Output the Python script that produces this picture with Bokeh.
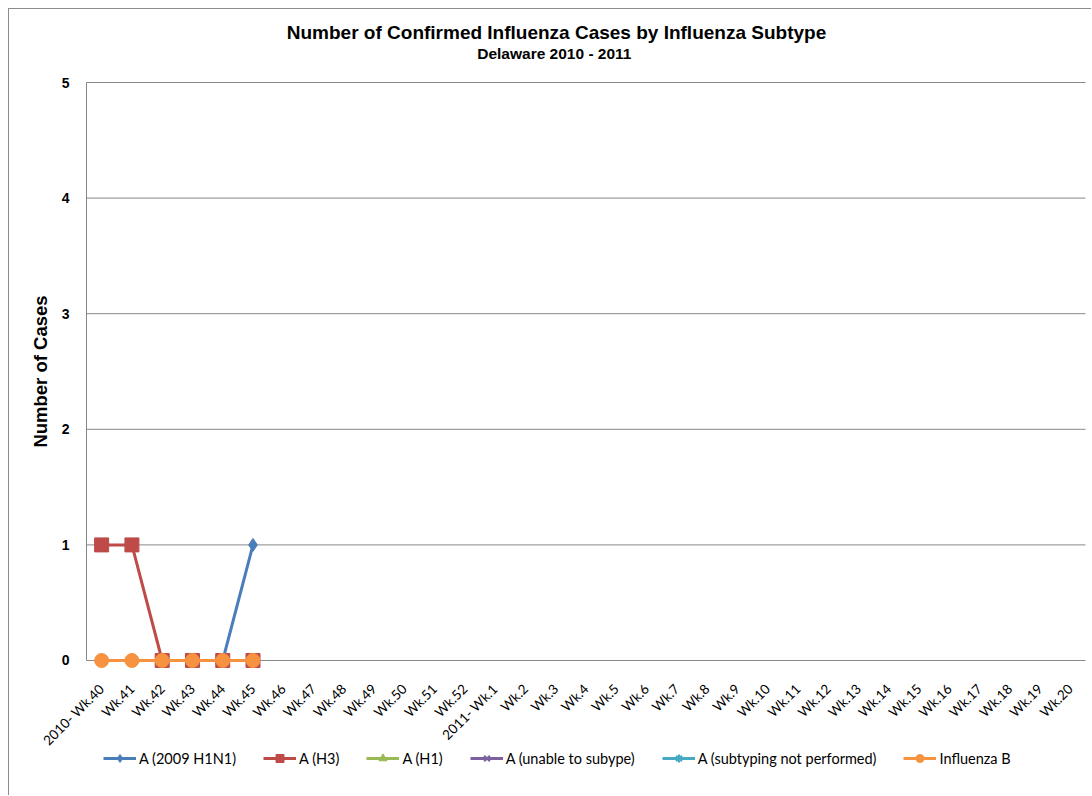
import math
from bokeh.plotting import figure
from bokeh.models import Range1d, FixedTicker, Legend, LegendItem, Label, ColumnDataSource
from bokeh.embed import file_html
from bokeh.resources import INLINE

# ---- data ----
weeks = ["2010- Wk.40", "Wk.41", "Wk.42", "Wk.43", "Wk.44", "Wk.45", "Wk.46", "Wk.47",
         "Wk.48", "Wk.49", "Wk.50", "Wk.51", "Wk.52", "2011- Wk.1", "Wk.2", "Wk.3",
         "Wk.4", "Wk.5", "Wk.6", "Wk.7", "Wk.8", "Wk.9", "Wk.10", "Wk.11", "Wk.12",
         "Wk.13", "Wk.14", "Wk.15", "Wk.16", "Wk.17", "Wk.18", "Wk.19", "Wk.20"]
reported_weeks = ["2010- Wk.40", "Wk.41", "Wk.42", "Wk.43", "Wk.44", "Wk.45"]
a_2009_h1n1 = [0, 0, 0, 0, 0, 1]
a_h3 = [1, 1, 0, 0, 0, 0]
a_h1 = [0, 0, 0, 0, 0, 0]
a_unable = [0, 0, 0, 0, 0, 0]
a_not_performed = [0, 0, 0, 0, 0, 0]
influenza_b = [0, 0, 0, 0, 0, 0]
series_names = ["A (2009 H1N1)", "A (H3)", "A (H1)", "A (unable to subype)",
                "A (subtyping not performed)", "Influenza B"]
y_ticks = [0, 1, 2, 3, 4, 5]

title_text = "Number of Confirmed Influenza Cases by Influenza Subtype"
subtitle_text = "Delaware 2010  - 2011"
y_title = "Number of Cases"

# week positions on the category axis (index of each week)
week_pos = list(range(len(weeks)))
reported_pos = [weeks.index(w) for w in reported_weeks]
cat_left, cat_right = -0.5, len(weeks) - 0.5

# ---- figure ----
# The frame covers the whole canvas; the weeks and 0..5 occupy the original plot box.
W, H = 1083, 787
p = figure(x_range=Range1d(-3.0435, 32.7312), y_range=Range1d(-1.1765, 5.6315),
           width=W, height=H, output_backend="svg", toolbar_location=None,
           min_border_left=0, min_border_right=0, min_border_top=0, min_border_bottom=0)
p.styles = {"margin-left": "8px", "margin-top": "8px",
            "border-left": "1px solid #8c8c8c", "border-top": "1px solid #8c8c8c"}
p.outline_line_color = None
p.background_fill_color = "white"
p.border_fill_color = "white"

grid_col = "#878787"
p.xgrid.visible = False
p.ygrid.visible = False
# horizontal gridlines limited to the category area
p.segment(x0=[cat_left] * len(y_ticks), x1=[cat_right] * len(y_ticks), y0=y_ticks, y1=y_ticks,
          line_color=grid_col, line_width=1)

p.yaxis.fixed_location = cat_left
p.yaxis.ticker = FixedTicker(ticks=y_ticks)
p.yaxis.bounds = (0, 5)
p.yaxis.axis_line_color = grid_col
p.yaxis.axis_line_width = 1
p.yaxis.major_tick_line_color = None
p.yaxis.minor_tick_line_color = None
p.yaxis.major_label_text_font = "Liberation Sans"
p.yaxis.major_label_text_font_style = "bold"
p.yaxis.major_label_text_font_size = "14px"
p.yaxis.major_label_text_color = "black"
p.yaxis.major_label_standoff = 11

p.xaxis.fixed_location = 0
p.xaxis.ticker = FixedTicker(ticks=week_pos)
p.xaxis.major_label_overrides = {i: w for i, w in zip(week_pos, weeks)}
p.xaxis.axis_line_color = None
p.xaxis.major_tick_line_color = None
p.xaxis.minor_tick_line_color = None
p.xaxis.major_label_orientation = math.pi / 4
p.xaxis.major_label_text_font = "Lato"
p.xaxis.major_label_text_font_size = "13.5px"
p.xaxis.major_label_text_color = "black"
p.xaxis.major_label_standoff = 20

colors = ["#4A7EBB", "#BE4B48", "#98B954", "#7D60A0", "#46AAC5", "#F69240"]
markers = ["diamond", "square", "triangle", "x", "asterisk", "circle"]
sizes = [13, 14, 11, 10, 10, 14]
values = [a_2009_h1n1, a_h3, a_h1, a_unable, a_not_performed, influenza_b]

items = []
for name, vals, c, m, s in zip(series_names, values, colors, markers, sizes):
    src = ColumnDataSource(dict(x=reported_pos, y=vals, week=reported_weeks))
    ln = p.line("x", "y", source=src, line_color=c, line_width=3)
    if m in ("x", "asterisk"):
        sc = p.scatter("x", "y", source=src, marker=m, size=s, line_color=c, line_width=2)
    else:
        sc = p.scatter("x", "y", source=src, marker=m, size=s, fill_color=c, line_color=c)
    items.append(LegendItem(label=name, renderers=[ln, sc]))

legend = Legend(items=items, orientation="horizontal", location=(94, 28),
                glyph_width=33, glyph_height=20, label_standoff=3, spacing=27,
                padding=0, margin=0, border_line_color=None, background_fill_alpha=0,
                label_text_font="Lato", label_text_font_size="14.5px", label_text_color="black")
p.add_layout(legend, "center")

p.add_layout(Label(x=547, y=764, x_units="screen", y_units="screen", text=title_text,
                   text_align="center", text_baseline="middle", text_font="Liberation Sans",
                   text_font_style="bold", text_font_size="19px", text_color="black"))
p.add_layout(Label(x=547, y=743, x_units="screen", y_units="screen", text=subtitle_text,
                   text_align="center", text_baseline="middle", text_font="Liberation Sans",
                   text_font_style="bold", text_font_size="15.5px", text_color="black"))
p.add_layout(Label(x=31, y=425, x_units="screen", y_units="screen", text=y_title,
                   angle=math.pi / 2, text_align="center", text_baseline="middle",
                   text_font="Liberation Sans", text_font_style="bold",
                   text_font_size="18.5px", text_color="black"))

open("out.html", "w").write(file_html(p, INLINE))
